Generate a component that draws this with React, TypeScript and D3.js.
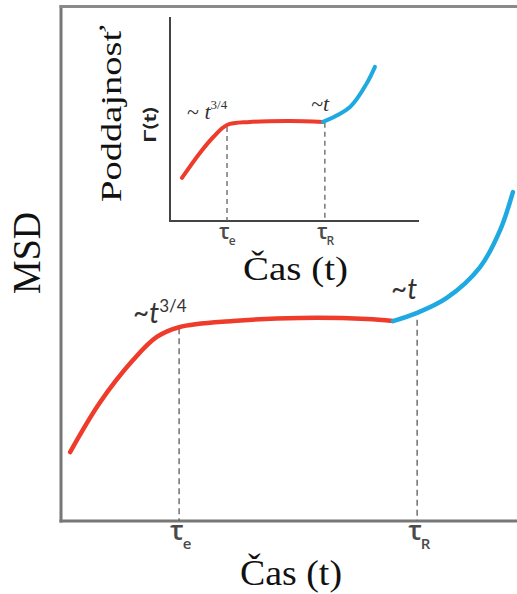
import React from "react";
import * as d3 from "d3";

// Main MSD curve (arbitrary units 0-100)
const mainRedX = [2, 8.5, 15.8, 21, 25.9, 37.7, 52.4, 67.1, 72.8];
const mainRedY = [13.4, 23.0, 31.3, 35.8, 37.7, 38.9, 39.5, 39.3, 38.9];
const mainBlueX = [72.8, 78.1, 84.6, 91.9, 96.3, 99.1];
const mainBlueY = [38.9, 40.5, 43.4, 49.4, 56.6, 64.0];
const mainTicks = [
  { x: 25.9, sym: "τ", sub: "e" },
  { x: 78.1, sym: "τ", sub: "R" },
];

// Inset compliance curve
const insetRedX = [4.8, 12.0, 17.5, 22.9, 32.1, 48.2, 61.4];
const insetRedY = [21.2, 33.5, 41.5, 47.3, 48.8, 49.3, 48.8];
const insetBlueX = [61.4, 72.3, 79.1, 82.3];
const insetBlueY = [48.8, 56.2, 68.0, 75.9];
const insetTicks = [
  { x: 22.9, sym: "τ", sub: "e" },
  { x: 62.2, sym: "τ", sub: "R" },
];

const RED = "#ee3b2b";
const BLUE = "#1ea9e1";
const SERIF = "'Liberation Serif', 'Times New Roman', serif";
const SANS = "Lato, 'Open Sans', sans-serif";
const TICKFONT = "'Open Sans', Lato, sans-serif";

function zip(xs: number[], ys: number[]) {
  return xs.map((x, i) => [x, ys[i]] as [number, number]);
}

export default function App() {
  const mx = d3.scaleLinear().domain([0, 100]).range([61, 517]);
  const my = d3.scaleLinear().domain([0, 100]).range([521, 7]);
  const ix = d3.scaleLinear().domain([0, 100]).range([170, 419]);
  const iy = d3.scaleLinear().domain([0, 100]).range([221, 18]);

  const mainLine = d3
    .line<[number, number]>()
    .x((d) => mx(d[0]))
    .y((d) => my(d[1]))
    .curve(d3.curveCatmullRom);
  const insetLine = d3
    .line<[number, number]>()
    .x((d) => ix(d[0]))
    .y((d) => iy(d[1]))
    .curve(d3.curveCatmullRom);

  const mainRed = zip(mainRedX, mainRedY);
  const mainBlue = zip(mainBlueX, mainBlueY);
  const insetRed = zip(insetRedX, insetRedY);
  const insetBlue = zip(insetBlueX, insetBlueY);

  const allMainX = mainRedX.concat(mainBlueX.slice(1));
  const allMainY = mainRedY.concat(mainBlueY.slice(1));
  const allInsetX = insetRedX.concat(insetBlueX.slice(1));
  const allInsetY = insetRedY.concat(insetBlueY.slice(1));
  const interp = (xs: number[], ys: number[], x: number) => {
    for (let i = 0; i < xs.length - 1; i++) {
      if (x >= xs[i] && x <= xs[i + 1]) {
        const t = (x - xs[i]) / (xs[i + 1] - xs[i]);
        return ys[i] + t * (ys[i + 1] - ys[i]);
      }
    }
    return ys[ys.length - 1];
  };

  return (
    <svg
      width={517}
      height={594}
      style={{ position: "absolute", left: 0, top: 0, background: "#fff" }}
    >
      {/* main frame */}
      <line x1={61} x2={61} y1={5} y2={522.5} stroke="#777" strokeWidth={3} />
      <line x1={59.5} x2={517} y1={6.5} y2={6.5} stroke="#8a8a8a" strokeWidth={3} />
      <line x1={59.5} x2={517} y1={521} y2={521} stroke="#777" strokeWidth={3} />

      {/* main dashed */}
      {mainTicks.map((t, i) => (
        <line
          key={"md" + i}
          x1={mx(t.x)}
          x2={mx(t.x)}
          y1={my(interp(allMainX, allMainY, t.x)) + (i === 1 ? 7 : 1)}
          y2={521}
          stroke="#666"
          strokeWidth={1.4}
          strokeDasharray="6,4"
        />
      ))}

      {/* main curves */}
      <path d={mainLine(mainRed) || ""} fill="none" stroke={RED} strokeWidth={4.5} strokeLinecap="round" />
      <path d={mainLine(mainBlue) || ""} fill="none" stroke={BLUE} strokeWidth={4.5} strokeLinecap="round" />

      {/* main tick labels */}
      {mainTicks.map((t, i) => (
        <text key={"mt" + i} x={mx(t.x) - 9} y={540} fontFamily={TICKFONT} fontWeight={600} fontSize={27} fill="#4a4a4a">
          {t.sym}
          <tspan fontSize={15} dy={9} dx={-1}>{t.sub}</tspan>
        </text>
      ))}

      {/* main labels */}
      <text
        x={240}
        y={585}
        fontFamily={SERIF}
        fontSize={36}
        fill="#111"
        textLength={102}
        lengthAdjust="spacingAndGlyphs"
      >
        Čas (t)
      </text>
      <text
        transform="translate(40,253) rotate(-90)"
        textAnchor="middle"
        fontFamily={SERIF}
        fontSize={39}
        fill="#111"
        textLength={82}
        lengthAdjust="spacingAndGlyphs"
      >
        MSD
      </text>

      <text x={133} y={323} fontFamily={SANS} fontStyle="italic" fontSize={28} fill="#333">
        ~t
        <tspan fontSize={17} fontStyle="normal" dy={-11}>3/4</tspan>
      </text>
      <text x={391} y={299} fontFamily={SANS} fontStyle="italic" fontSize={28} fill="#333">
        ~t
      </text>

      {/* inset axes */}
      <line x1={170} x2={170} y1={17} y2={221} stroke="#444" strokeWidth={2} />
      <line x1={169} x2={419} y1={221} y2={221} stroke="#444" strokeWidth={2} />

      {insetTicks.map((t, i) => (
        <line
          key={"id" + i}
          x1={ix(t.x)}
          x2={ix(t.x)}
          y1={iy(interp(allInsetX, allInsetY, t.x)) + 2}
          y2={221}
          stroke="#555"
          strokeWidth={1.2}
          strokeDasharray="5,4"
        />
      ))}

      <path d={insetLine(insetRed) || ""} fill="none" stroke={RED} strokeWidth={4} strokeLinecap="round" />
      <path d={insetLine(insetBlue) || ""} fill="none" stroke={BLUE} strokeWidth={4} strokeLinecap="round" />

      {insetTicks.map((t, i) => (
        <text key={"it" + i} x={ix(t.x) - 8} y={239} fontFamily={TICKFONT} fontWeight={600} fontSize={21} fill="#4a4a4a">
          {t.sym}
          <tspan fontSize={12} dy={6} dx={-1}>{t.sub}</tspan>
        </text>
      ))}

      <text
        x={243}
        y={280}
        fontFamily={SERIF}
        fontSize={33}
        fill="#111"
        textLength={105}
        lengthAdjust="spacingAndGlyphs"
      >
        Čas (t)
      </text>
      <text
        transform="translate(121,113.5) rotate(-90)"
        textAnchor="middle"
        fontFamily={SERIF}
        fontSize={30}
        fill="#111"
        textLength={177}
        lengthAdjust="spacingAndGlyphs"
      >
        Poddajnosť
      </text>
      <text
        transform="translate(156,125) rotate(-90)"
        textAnchor="middle"
        fontFamily={SANS}
        fontWeight="bold"
        fontSize={17}
        fill="#222"
        textLength={36}
        lengthAdjust="spacingAndGlyphs"
      >
        Γ(t)
      </text>

      <text x={187} y={119} fontFamily={SERIF} fontSize={22} fill="#333">
        ~ <tspan fontStyle="italic">t</tspan>
        <tspan fontSize={13} dy={-10}>3/4</tspan>
      </text>
      <text x={311} y={111} fontFamily={SERIF} fontStyle="italic" fontSize={22} fill="#333">
        ~t
      </text>
    </svg>
  );
}
